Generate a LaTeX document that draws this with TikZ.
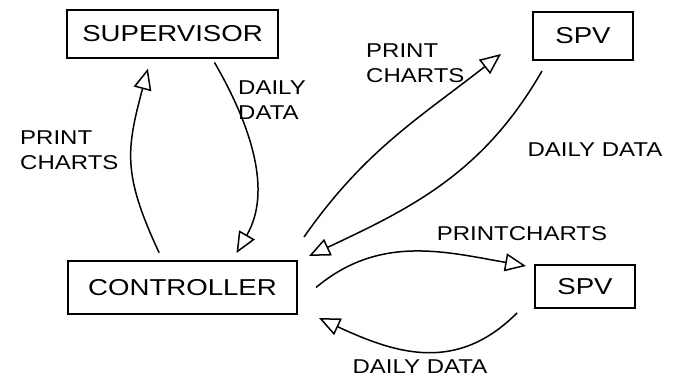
\documentclass[tikz,border=0pt]{standalone}
\usepackage{fontspec}
\newfontfamily\hand[FakeStretch=1.2]{Liberation Sans}
\usetikzlibrary{arrows.meta}

\begin{document}
\begin{tikzpicture}[x=1pt,y=1pt]
        \useasboundingbox (0,0) rectangle (683,380);
        \begin{scope}[every node/.style={rectangle,draw,line width=2pt,inner sep=0pt,
            font=\hand\fontsize{23}{23}\selectfont}]
          \node[minimum width=211pt,minimum height=48pt] (sup) at (172.5,346) {SUPERVISOR};
          \node[minimum width=100pt,minimum height=48pt] (spva) at (583,344) {SPV};
          \node[minimum width=229pt,minimum height=53pt] (ctrl) at (182.5,92.5) {CONTROLLER};
          \node[minimum width=100pt,minimum height=43pt] (spvb) at (585,93.5) {SPV};
        \end{scope}
        \begin{scope}[every node/.style={inner sep=0pt,align=left,
            font=\hand\fontsize{20}{25}\selectfont}]
          \node[anchor=west] (pcleft) at (20,230) {PRINT\\CHARTS};
          \node[anchor=west] (ddleft) at (238,280) {DAILY\\DATA};
          \node[anchor=west] (pctop) at (366,317) {PRINT\\CHARTS};
          \node (ddtop) at (595,230) {DAILY DATA};
          \node (pcbot) at (522,146) {PRINTCHARTS};
          \node (ddbot) at (420,13) {DAILY DATA};
        \end{scope}
        \begin{scope}[every edge/.style={draw=black,line width=1.5pt,
            -{Triangle[open,length=21pt,width=18pt]}}]
          \path ([xshift=-20pt]ctrl.north) edge[out=115,in=-105,looseness=1.2,
            shorten <=8pt,shorten >=10pt] ([xshift=-22pt]sup.south);
          \path ([xshift=40pt]sup.south) edge[out=-60,in=60,
            shorten <=4pt,shorten >=8pt] ([xshift=50pt]ctrl.north);
          \path ([xshift=6pt,yshift=23pt]ctrl.north east) edge[out=55,in=-142]
            ([xshift=-31pt,yshift=7pt]spva.south west);
          \path ([xshift=-41pt,yshift=-10pt]spva.south) edge[out=240,in=25]
            ([xshift=11pt,yshift=4pt]ctrl.north east);
          \path ([xshift=18pt]ctrl.east) edge[out=40,in=170]
            ([xshift=-8pt,yshift=-2pt]spvb.north west);
          \path ([xshift=-17pt,yshift=-4pt]spvb.south west) edge[out=-135,in=-25,looseness=1.1]
            ([xshift=21pt,yshift=-30.5pt]ctrl.east);
        \end{scope}
      \end{tikzpicture}
\end{document}
